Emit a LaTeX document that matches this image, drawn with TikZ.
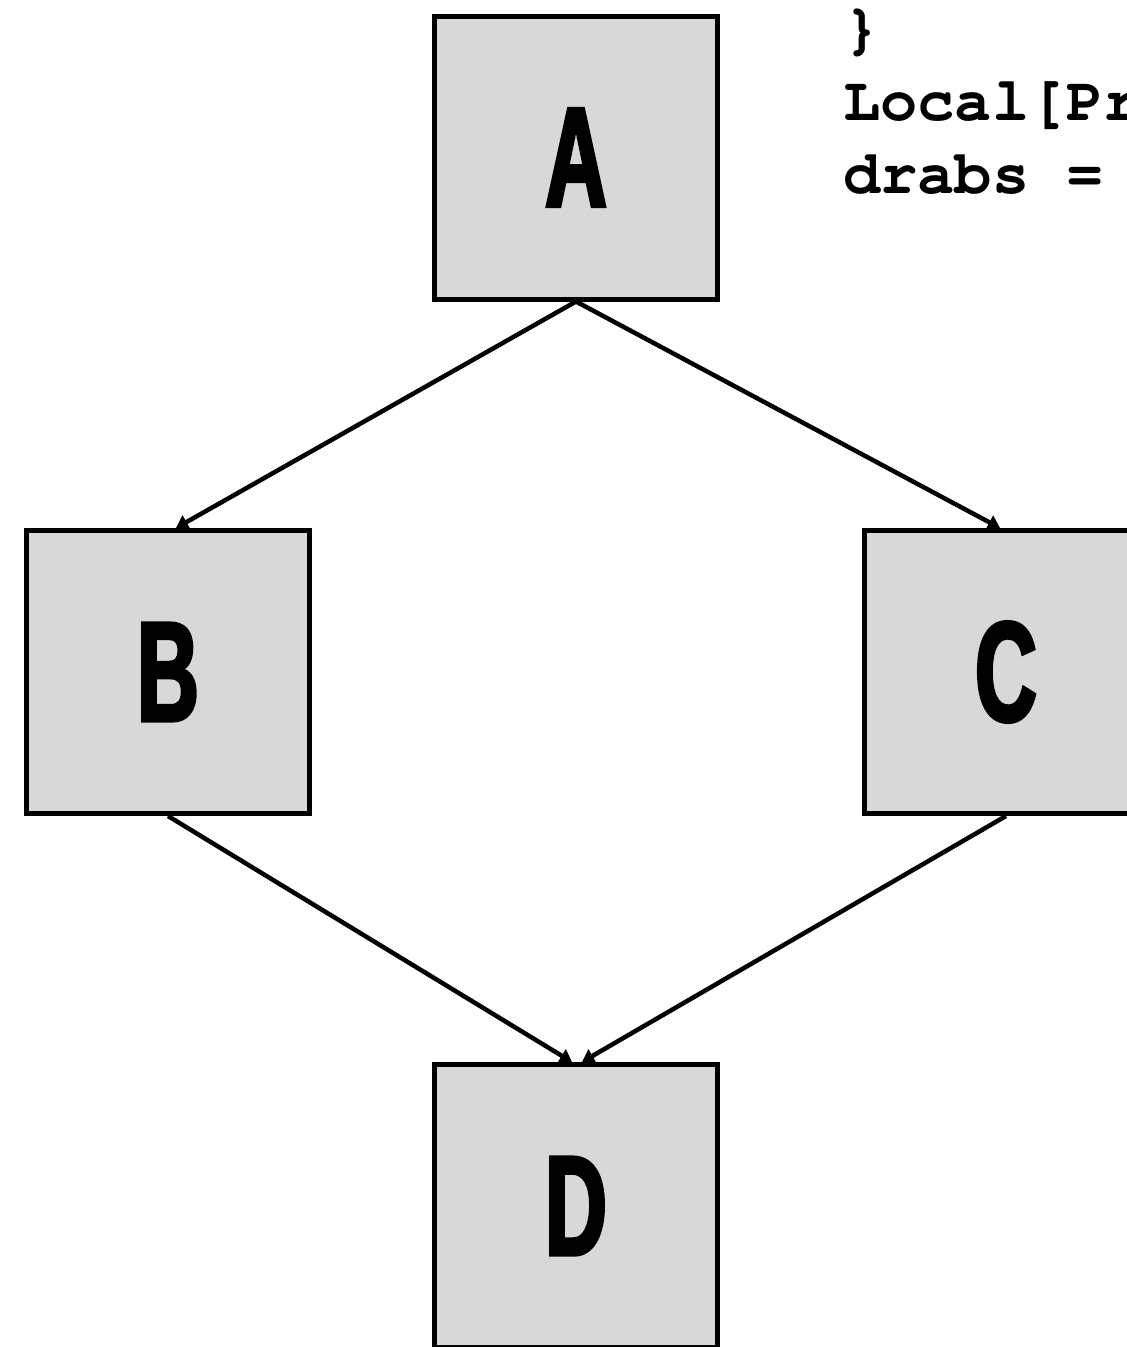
\documentclass[tikz,border=0pt]{standalone}
\usepackage[T1]{fontenc}
\usepackage{fontspec}
\usepackage{xcolor}
\usepackage{tikz}
\usetikzlibrary{arrows.meta}
\newfontfamily\boxfont[FakeStretch=0.6,FakeBold=2.5,UprightFont={* Bold}]{Liberation Sans}
\newcommand\codefont{\fontencoding{T1}\fontfamily{pcr}\fontseries{b}\selectfont}
\definecolor{boxgray}{HTML}{D8D8D8}

\begin{document}
\begin{tikzpicture}[x=1pt,y=-1pt,
  box/.style={draw=black,fill=boxgray,line width=5pt,minimum size=283pt,inner sep=0pt,
    font=\boxfont\fontsize{142}{142}\selectfont},
  edge/.style={line width=4.5pt,-{Triangle[length=12pt,width=15pt]}},
  code/.style={anchor=base west,inner sep=0pt,font=\fontsize{62}{62}\codefont}]
\useasboundingbox (0,0) rectangle (1127,1347);
\clip (0,0) rectangle (1127,1347);
\fill[white] (0,0) rectangle (1127,1347);
\node[box] (A) at (576,157.5) {A};
\node[box] (B) at (168,672) {B};
\node[box] (C) at (1006,672) {C};
\node[box] (D) at (576,1206) {D};
\draw[edge] (A.south) -- ([xshift=8pt]B.north);
\draw[edge] (A.south) -- ([xshift=-6pt]C.north);
\draw[edge] (B.south) -- ([xshift=-4pt]D.north);
\draw[edge] (C.south) -- ([xshift=6pt]D.north);
% code lines at the top right
\node[code] (code1) at (843,47) {\}};
\node[code] (code2) at (843,120) {Local[Pr};
\node[code] (code3) at (843,193) {drabs =};
\end{tikzpicture}
\end{document}
